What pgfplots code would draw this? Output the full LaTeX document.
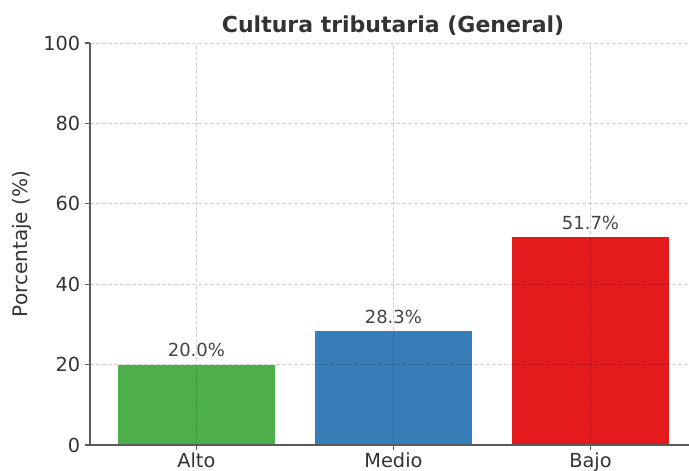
\documentclass[border=0pt]{standalone}
\usepackage{pgfplots}
\pgfplotsset{compat=1.18}
\usepackage{fontspec}
\setmainfont{DejaVu Sans}
\definecolor{cgreen}{HTML}{4DAF4A}
\definecolor{cblue}{HTML}{377EB8}
\definecolor{cred}{HTML}{E41A1C}
\definecolor{axisgray}{HTML}{5A5A5A}
\definecolor{textgray}{HTML}{333333}
\definecolor{labelgray}{HTML}{444444}
\begin{document}
\begin{tikzpicture}
\begin{axis}[
    scale only axis,
    width=449.25pt, height=301.5pt,
    ymin=0, ymax=100, ytick={0,20,...,100},
    xmin=-0.54, xmax=2.5,
    xtick={0,1,2}, xticklabels={Alto,Medio,Bajo},
    ybar, bar width=0.8,
    axis on top,
    axis x line*=bottom, axis y line*=left,
    axis line style={draw=axisgray, line width=1.1pt, -},
    tick style={draw=axisgray, line width=0.9pt},
    tick align=outside, major tick length=3.75pt,
    grid=major,
    major grid style={draw=black, draw opacity=0.18, dash pattern=on 3pt off 1.5pt, line width=0.6pt},
    tick label style={font=\fontsize{14.5}{17}\selectfont, text=textgray},
    xticklabel style={yshift=1.5pt},
    /pgf/number format/assume math mode=true,
    title={Cultura tributaria (General)},
    title style={font=\fontsize{16.5}{19}\selectfont\bfseries, text=textgray,
        at={(axis description cs:0.506,1)}, anchor=base, yshift=1.5pt},
    ylabel={Porcentaje (\%)},
    ylabel style={font=\fontsize{15}{18}\selectfont, text=textgray,
        at={(axis description cs:-0.113,0.5)}, anchor=center},
    nodes near coords={\pgfmathprintnumber[fixed,fixed zerofill,precision=1]{\pgfplotspointmeta}\%},
    every node near coord/.append style={font=\fontsize{13.5}{16}\selectfont,
        text=labelgray, anchor=base, inner sep=0pt, yshift=6pt},
]
\addplot[fill=cgreen, draw=none, bar shift=0pt] coordinates {(0,20.0)};
\addplot[fill=cblue, draw=none, bar shift=0pt] coordinates {(1,28.3)};
\addplot[fill=cred, draw=none, bar shift=0pt] coordinates {(2,51.7)};
\end{axis}
\pgfresetboundingbox
\useasboundingbox (-67.5pt,-19.5pt) rectangle (449.25pt,333.75pt);
\end{tikzpicture}
\end{document}
